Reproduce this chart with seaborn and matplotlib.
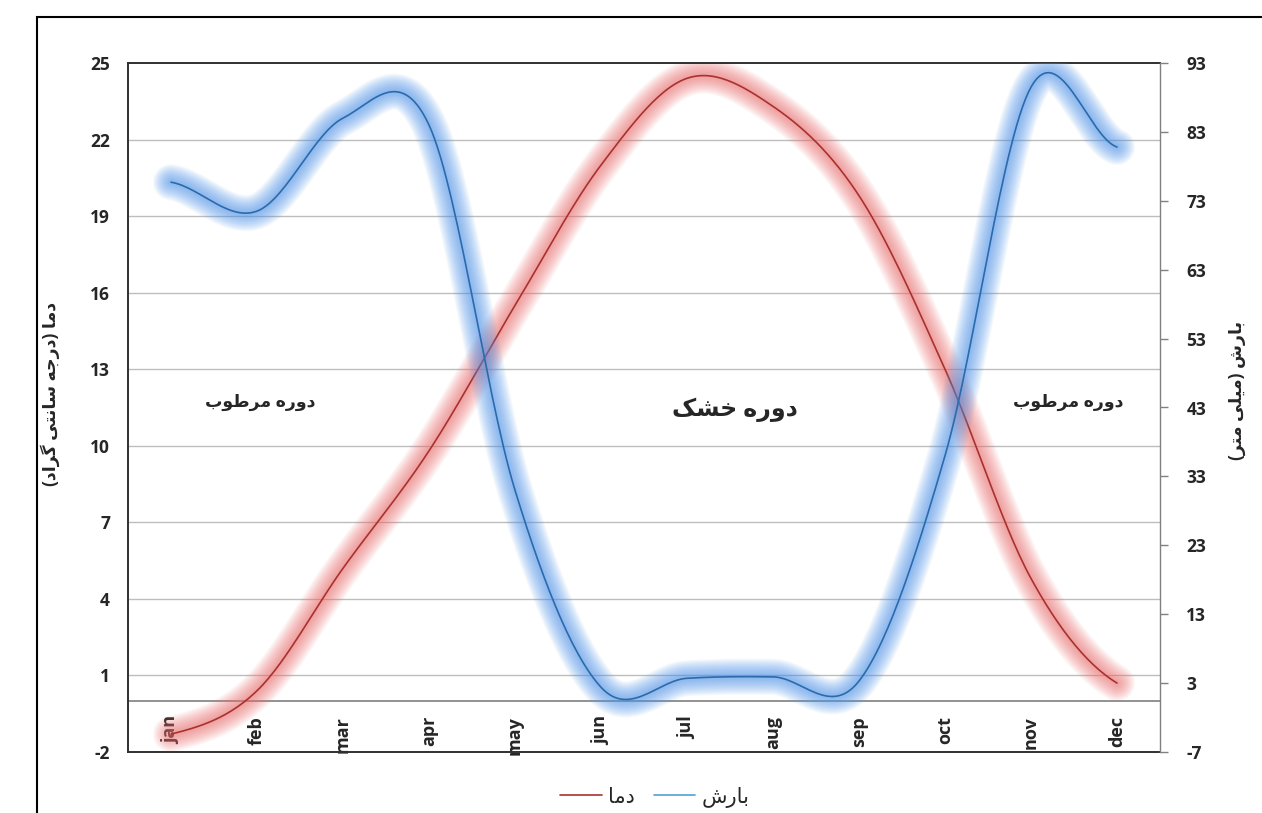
import numpy as np
import pandas as pd
import matplotlib
matplotlib.use("Agg")
import matplotlib.pyplot as plt
import seaborn as sns
from matplotlib.lines import Line2D
from matplotlib.patches import Rectangle

# month labels and values
months = ["jan", "feb", "mar", "apr", "may", "jun",
          "jul", "aug", "sep", "oct", "nov", "dec"]
temp = [-1.3, 0.4, 5.2, 9.8, 15.5, 21.0, 24.4, 23.3, 19.8, 13.0, 4.8, 0.7]
rain = [75.7, 71.5, 85.0, 84.0, 31.0, 2.4, 3.7, 3.9, 3.3, 36.0, 89.5, 80.8]

temp_ticks = list(range(-2, 26, 3))
rain_ticks = list(range(-7, 94, 10))

# Persian strings in presentation forms, visual (left-to-right) order
TXT_TEMP = "\uFE8E\uFEE3\uFEA9"                       # دما
TXT_RAIN = "\uFEB5\uFEAD\uFE8E\uFE91"                 # بارش
TXT_WET = "\uFE8F\uFEEE\uFEC3\uFEAE\uFEE3 \uFEE9\uFEAD\uFEED\uFEA9"   # دوره مرطوب
TXT_DRY = "\uFB8F\uFEB8\uFEA7 \uFEE9\uFEAD\uFEED\uFEA9"               # دوره خشک
TXT_YL = ("(\uFEA9\uFE8D\uFEAE\uFB94 \uFBFD\uFE98\uFEE7\uFE8E\uFEB3 "
          "\uFEEA\uFE9F\uFEAD\uFEA9) " + TXT_TEMP)    # دما (درجه سانتی گراد)
TXT_YR = "(\uFEAE\uFE98\uFEE3 \uFBFD\uFEE0\uFBFF\uFEE3) " + TXT_RAIN  # بارش (میلی متر)


def smooth(y, n=30):
    """Excel style smoothed line (Catmull-Rom through the points)."""
    y = np.asarray(y, float)
    p = np.concatenate([[y[0]], y, [y[-1]]])
    xs, ys = [], []
    for i in range(len(y) - 1):
        p0, p1, p2, p3 = p[i], p[i + 1], p[i + 2], p[i + 3]
        m1 = (p2 - p0) / 2
        m2 = (p3 - p1) / 2
        t = np.linspace(0, 1, n, endpoint=(i == len(y) - 2))
        h00 = 2 * t**3 - 3 * t**2 + 1
        h10 = t**3 - 2 * t**2 + t
        h01 = -2 * t**3 + 3 * t**2
        h11 = t**3 - t**2
        xs.append(i + t)
        ys.append(h00 * p1 + h10 * m1 + h01 * p2 + h11 * m2)
    return np.concatenate(xs), np.concatenate(ys)


def glow(axis, x, y, color):
    # soft halo made of many wide translucent strokes
    for w in np.arange(26, 2, -1.5):
        axis.plot(x, y, color=color, lw=w, alpha=0.055, solid_capstyle="round", zorder=2)


sns.set_style("white")
plt.rcParams["font.family"] = ["Open Sans", "DejaVu Sans"]
plt.rcParams["axes.unicode_minus"] = False

fig = plt.figure(figsize=(12.62, 8.13), dpi=100)
ax = fig.add_axes([128 / 1262, 1 - 752 / 813, 1032 / 1262, 689 / 813])
ax2 = ax.twinx()

# temperature on the left axis
tx, ty = smooth(temp)
df_t = pd.DataFrame({"x": tx, "y": ty})
glow(ax, tx, ty, "#f07070")
sns.lineplot(data=df_t, x="x", y="y", ax=ax, color="#a8322e", lw=1.2, zorder=3)

# precipitation on the right axis
rx, ry = smooth(rain)
df_r = pd.DataFrame({"x": rx, "y": ry})
glow(ax2, rx, ry, "#4f95ec")
sns.lineplot(data=df_r, x="x", y="y", ax=ax2, color="#2a6aad", lw=1.2, zorder=3)

ax.set_xlim(-0.5, len(months) - 0.5)
ax.set_ylim(-2, 25)
ax2.set_ylim(-7, 93)

# gridlines
for v in temp_ticks[1:-1]:
    ax.axhline(v, color="#bdbdbd", lw=1, zorder=1)
ax.axhline(0, color="#7f7f7f", lw=1.2, zorder=1)

ax.set_yticks(temp_ticks)
ax.set_yticklabels([str(v) for v in temp_ticks], fontweight="bold", fontsize=12.5)
ax.tick_params(axis="y", length=0, pad=13)
ax2.set_yticks(rain_ticks)
ax2.set_yticklabels([str(v) for v in rain_ticks], fontweight="bold", fontsize=12.5)
ax2.tick_params(axis="y", length=6, width=1, color="#808080", pad=13)

ax.set_xticks(range(len(months)))
ax.set_xticklabels(months, rotation=90, fontsize=13, fontweight="bold")
ax.tick_params(axis="x", length=0, pad=-26)
ax.set_xlabel("")
ax2.set_xlabel("")

ax.set_ylabel(TXT_YL, fontsize=12.5, fontweight="bold", rotation=90)
ax.yaxis.set_label_coords(-0.066, 0.52)
ax2.set_ylabel(TXT_YR, fontsize=12.5, fontweight="bold", rotation=90)
ax2.yaxis.set_label_coords(1.066, 0.525)

for s in ["left", "top", "bottom"]:
    ax.spines[s].set_color("#303030")
    ax.spines[s].set_linewidth(1.4)
    ax2.spines[s].set_visible(False)
ax.spines["right"].set_visible(False)
ax2.spines["right"].set_color("#808080")
ax2.spines["right"].set_linewidth(1)

# period labels
ax.text(1.035, 11.7, TXT_WET, ha="center", va="center", fontsize=12.5, fontweight="bold")
ax.text(6.56, 11.4, TXT_DRY, ha="center", va="center", fontsize=17, fontweight="bold")
ax.text(10.43, 11.7, TXT_WET, ha="center", va="center", fontsize=12.5, fontweight="bold")

handles = [Line2D([], [], color="#a8322e", lw=1.2),
           Line2D([], [], color="#4aa3d6", lw=1.2)]
fig.legend(handles, [TXT_TEMP, TXT_RAIN], loc="center", bbox_to_anchor=(655 / 1262, 1 - 797 / 813),
           ncol=2, frameon=False, fontsize=15, handlelength=2.0, handletextpad=0.3,
           columnspacing=0.9)

# chart area border (cut by the image edges)
fig.patches.append(Rectangle((37 / 1262, -0.1), 1.2, 1 - 17 / 813 + 0.1,
                             transform=fig.transFigure, fill=False,
                             ec="black", lw=1.5, clip_on=False))

fig.savefig("out.png", dpi=100, facecolor="white")
